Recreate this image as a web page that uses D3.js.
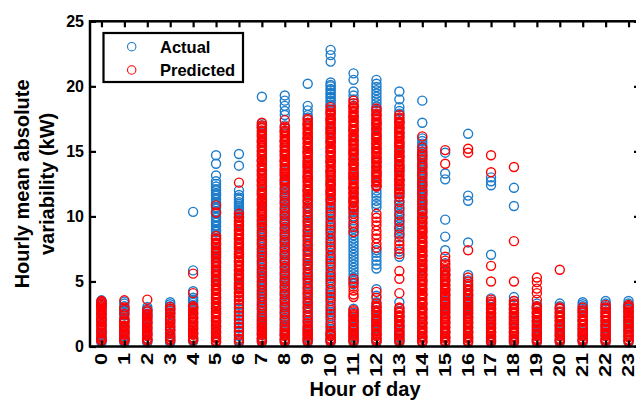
<!DOCTYPE html>
<html>
<head>
<meta charset="utf-8">
<script src="https://cdn.jsdelivr.net/npm/d3@7"></script>
<style>
  html, body { margin: 0; padding: 0; background: #fff; }
  svg { display: block; }
  text { font-family: "Liberation Sans", Arial, sans-serif; font-weight: bold; fill: #000; }
</style>
</head>
<body>
<svg id="chart" width="636" height="400"></svg>
<script>
// Hour of day categories
const hours = [0,1,2,3,4,5,6,7,8,9,10,11,12,13,14,15,16,17,18,19,20,21,22,23];
const yTicks = [0, 5, 10, 15, 20, 25];
const seriesNames = ["Actual", "Predicted"];

// Hourly mean absolute variability (kW), one list of observations per hour
const actual = [
  [0.3,0.4,0.5,0.7,0.9,1.2,1.4,1.7,1.9,2.2,2.4,2.7,2.9,3.1,3.2,3.3,3.45,3.55],
  [0.3,0.4,0.6,0.8,1.1,1.3,1.6,1.9,2.1,2.4,2.6,2.75,2.9,3.1,3.3,3.45],
  [0.3,0.4,0.6,0.9,1.2,1.5,1.8,2.1,2.3,2.5,2.65,2.8,2.9,3.05],
  [0.3,0.4,0.55,0.75,0.95,1.25,1.45,1.75,1.95,2.25,2.55,2.75,2.95,3.1,3.25,3.4],
  [0.4,0.5,0.7,1.0,1.3,1.6,1.9,2.2,2.5,2.8,3.0,3.2,3.35,3.5,3.6,3.75,4.25,5.85,10.35],
  [0.3,0.7,1.1,1.6,2.0,2.5,2.9,3.4,3.8,4.3,4.7,5.2,5.6,6.1,6.5,7.0,7.4,7.9,8.3,8.5,8.6,8.8,8.9,9.0,9.2,9.3,9.5,9.6,9.7,9.9,10.0,10.2,10.3,10.4,10.6,10.7,10.9,11.0,11.1,11.3,11.4,11.6,11.7,11.8,12.0,12.1,12.3,12.5,12.7,13.15,14.05,14.7],
  [0.3,0.5,0.8,1.1,1.4,1.7,2.0,2.3,2.6,2.9,3.2,3.5,4.1,4.7,5.3,5.9,6.5,7.1,7.7,8.3,8.9,9.5,9.9,10.2,10.35,10.5,10.65,10.8,10.95,11.1,11.3,11.45,11.65,12.0,13.9,14.8],
  [0.3,0.6,0.9,1.2,1.6,2.0,2.2,2.4,2.65,2.9,3.15,3.35,3.55,3.8,4.05,4.25,4.45,4.7,4.95,5.15,5.4,5.65,5.85,6.05,6.3,6.55,6.75,7.0,7.25,7.45,7.65,7.9,8.15,8.35,8.6,8.8,9.05,9.3,9.5,10.3,11.1,11.9,12.7,13.5,14.3,15.0,15.7,16.4,16.8,17.0,17.15,19.2],
  [0.3,0.55,0.85,1.1,1.35,1.6,1.85,2.1,2.35,2.6,2.85,3.1,3.35,3.6,3.9,4.1,4.35,4.6,4.9,5.1,5.35,5.6,5.85,6.1,6.4,6.6,6.85,7.1,7.35,7.6,7.9,8.1,8.35,8.6,8.85,9.1,9.4,9.6,9.85,10.1,10.35,10.6,10.9,11.1,11.35,11.6,11.85,12.1,12.4,12.6,13.4,14.2,15.0,15.8,16.6,17.0,17.8,18.1,18.5,18.9,19.3],
  [0.3,0.7,1.1,1.5,1.9,2.3,2.6,3.0,3.4,3.7,4.1,4.5,4.8,5.2,5.6,5.9,6.3,6.7,7.0,7.4,7.8,8.1,8.5,8.9,9.2,9.6,10.0,10.3,10.7,11.1,12.0,13.0,14.0,15.0,16.0,17.0,17.6,17.8,18.15,18.5,20.2],
  [0.3,0.55,0.8,1.05,1.35,1.65,2.0,2.35,2.65,2.95,3.3,3.65,3.95,4.25,4.6,4.95,5.25,5.55,5.9,6.25,6.55,6.85,7.2,7.55,7.85,8.15,8.5,8.85,9.15,9.45,9.8,10.15,10.45,10.75,11.05,11.8,12.6,13.4,14.2,15.0,15.8,16.6,17.4,18.1,18.5,18.6,18.8,18.9,19.1,19.2,19.4,19.5,19.7,19.8,20.0,20.1,20.3,21.9,22.4,22.8],
  [0.3,0.7,1.1,1.5,1.9,2.3,2.6,2.9,4.8,5.05,5.3,5.55,5.8,6.05,6.3,6.55,6.8,7.05,7.3,7.55,7.8,8.05,8.3,8.55,8.8,9.05,9.35,9.7,10.0,10.35,10.6,11.3,12.2,13.1,14.0,14.9,15.8,16.7,17.6,18.5,19.0,19.3,19.6,20.5,21.0],
  [0.3,0.6,1.0,1.4,1.8,2.2,2.6,3.0,3.4,3.9,4.4,6.0,6.3,6.6,6.9,7.2,7.4,10.7,10.95,11.2,11.5,11.75,12.0,12.3,13.2,14.2,15.2,16.2,17.2,18.2,18.45,18.7,18.95,19.2,19.45,19.7,19.95,20.2,20.5],
  [0.3,0.7,1.1,1.5,1.9,2.3,2.7,3.4,6.9,7.3,8.4,8.7,8.9,9.2,9.4,9.7,9.9,10.2,10.4,10.7,10.9,11.2,11.5,11.9,12.8,13.7,14.6,15.5,16.4,17.3,17.9,18.1,18.4,19.0,19.6],
  [0.3,0.8,1.3,1.8,2.3,2.8,3.3,4.0,5.0,6.0,7.0,8.0,9.0,9.9,10.3,10.5,10.75,11.0,11.2,11.45,11.7,11.9,12.15,12.4,12.6,12.85,13.1,13.3,13.55,13.8,14.0,14.25,14.5,14.7,14.95,15.2,15.4,15.6,15.8,16.0,17.2,18.9],
  [0.3,0.7,1.1,1.5,1.9,2.3,2.7,3.1,3.5,3.9,4.3,4.7,5.1,5.5,5.9,6.4,7.4,8.45,9.75,12.85,13.3,14.9],
  [0.3,0.7,1.1,1.5,1.9,2.3,2.7,3.1,3.5,3.9,4.3,4.7,5.1,5.5,8.0,11.2,11.6,16.35],
  [0.3,0.5,0.8,1.1,1.4,1.7,2.0,2.3,2.6,2.9,3.2,3.45,3.7,7.05,12.4,12.7,13.0],
  [0.3,0.5,0.8,1.1,1.4,1.7,2.0,2.3,2.6,2.9,3.2,3.5,3.8,10.8,12.2],
  [0.3,0.5,0.8,1.1,1.4,1.7,2.0,2.3,2.6,2.9,3.1,3.3],
  [0.3,0.5,0.8,1.1,1.4,1.7,2.0,2.3,2.6,2.9,3.1,3.3],
  [0.3,0.5,0.8,1.1,1.4,1.7,2.0,2.3,2.6,2.9,3.1,3.25,3.4],
  [0.3,0.5,0.8,1.1,1.4,1.7,2.0,2.3,2.6,2.9,3.1,3.3,3.5],
  [0.3,0.5,0.8,1.1,1.4,1.7,2.0,2.3,2.6,2.9,3.1,3.3,3.5]
];

const predicted = [
  [0.45,0.5,0.6,0.7,0.8,1.0,1.1,1.2,1.3,1.5,1.6,1.7,1.9,2.0,2.1,2.2,2.4,2.5,2.6,2.8,2.9,3.0,3.1,3.2,3.3,3.4,3.5],
  [0.45,0.5,0.6,0.7,0.9,1.0,1.1,1.2,1.4,1.5,1.6,1.8,1.9,2.0,2.15,2.5,2.8,3.0,3.55],
  [0.45,0.5,0.6,0.8,0.9,1.0,1.1,1.3,1.4,1.5,1.7,1.8,1.9,2.0,2.2,2.3,2.4,2.5,2.7,2.8,3.6],
  [0.45,0.55,0.7,0.8,1.0,1.2,1.3,1.5,1.6,1.8,2.0,2.1,2.3,2.5,2.6,2.8,2.9,3.05],
  [0.5,0.6,0.7,0.9,1.0,1.1,1.3,1.4,1.5,1.7,1.8,1.9,2.1,2.2,2.3,2.5,2.6,2.7,2.9,3.0,3.1,4.1,5.6],
  [0.35,0.45,0.6,0.7,0.8,1.0,1.1,1.2,1.4,1.5,1.6,1.8,1.9,2.0,2.2,2.3,2.5,2.6,2.7,2.9,3.0,3.1,3.3,3.4,3.6,3.7,3.8,4.0,4.1,4.3,4.4,4.5,4.7,4.8,5.0,5.1,5.2,5.4,5.5,5.7,5.8,5.9,6.1,6.2,6.4,6.5,6.6,6.8,6.9,7.1,7.2,7.3,7.5,7.6,7.8,7.9,8.0,8.2,8.3,8.5,10.3,10.85],
  [0.4,0.6,0.9,1.2,1.5,1.8,2.1,2.4,2.7,3.0,3.3,3.6,3.8,3.9,4.1,4.2,4.4,4.5,4.6,4.8,4.9,5.1,5.2,5.4,5.5,5.6,5.8,5.9,6.1,6.2,6.3,6.5,6.6,6.8,6.9,7.1,7.2,7.3,7.5,7.6,7.8,7.9,8.0,8.2,8.3,8.5,8.6,8.7,8.9,9.0,9.2,9.3,9.4,9.6,9.7,9.9,10.0,10.2,12.6],
  [0.4,0.5,0.6,0.7,0.9,1.0,1.1,1.3,1.4,1.5,1.7,1.8,1.9,2.1,2.3,2.5,2.8,3.0,3.2,3.4,3.7,3.9,4.1,4.3,4.6,4.8,5.0,5.3,5.5,5.7,5.9,6.2,6.4,6.6,6.9,7.1,7.3,7.5,7.8,8.0,8.2,8.5,8.7,8.9,9.2,9.4,9.6,9.7,9.8,10.0,10.1,10.2,10.4,10.5,10.6,10.8,10.9,11.0,11.2,11.3,11.4,11.6,11.7,11.8,12.0,12.1,12.3,12.4,12.5,12.7,12.8,12.9,13.1,13.2,13.3,13.5,13.6,13.8,13.9,14.0,14.2,14.3,14.4,14.6,14.7,14.8,15.0,15.1,15.3,15.4,15.5,15.7,15.8,15.9,16.1,16.2,16.3,16.5,16.6,16.8,16.9,17.0,17.2],
  [0.4,0.5,0.6,0.8,0.9,1.0,1.2,1.3,1.5,1.7,2.0,2.2,2.5,2.7,3.0,3.2,3.5,3.7,4.0,4.2,4.5,4.7,5.0,5.2,5.5,5.7,6.0,6.2,6.5,6.7,7.0,7.2,7.5,7.7,8.0,8.2,8.5,8.7,9.0,9.2,9.5,9.7,10.0,10.2,10.5,10.7,11.0,11.2,11.5,11.7,12.0,12.2,12.5,12.7,12.8,12.9,13.1,13.2,13.3,13.5,13.6,13.7,13.9,14.0,14.2,14.3,14.4,14.6,14.7,14.8,15.0,15.1,15.3,15.4,15.5,15.7,15.8,15.9,16.1,16.2,16.4,16.5,16.6,16.8,16.9,17.4],
  [0.4,0.5,0.6,0.8,0.9,1.0,1.2,1.3,1.4,1.6,1.8,2.0,2.2,2.4,2.7,2.9,3.1,3.3,3.5,3.8,4.0,4.2,4.4,4.6,4.9,5.1,5.3,5.5,5.7,6.0,6.2,6.4,6.6,6.8,7.1,7.3,7.5,7.7,7.9,8.2,8.4,8.6,8.8,9.0,9.3,9.5,9.7,9.9,10.1,10.4,10.6,10.8,11.0,11.2,11.3,11.5,11.6,11.7,11.9,12.0,12.1,12.3,12.4,12.6,12.7,12.8,13.0,13.1,13.2,13.4,13.5,13.7,13.8,13.9,14.1,14.2,14.3,14.5,14.6,14.8,14.9,15.0,15.2,15.3,15.4,15.6,15.7,15.9,16.0,16.1,16.3,16.4,16.5,16.7,16.8,17.0,17.1,17.2,17.4,17.5],
  [0.4,0.5,0.6,0.8,0.9,1.0,1.2,1.5,1.8,2.2,2.5,2.8,3.1,3.5,3.8,4.1,4.4,4.8,5.1,5.4,5.7,6.1,6.4,6.7,7.0,7.4,7.7,8.0,8.3,8.7,9.0,9.3,9.6,10.0,10.3,10.6,10.9,11.2,11.3,11.4,11.6,11.7,11.9,12.0,12.1,12.3,12.4,12.5,12.7,12.8,13.0,13.1,13.2,13.4,13.5,13.6,13.8,13.9,14.1,14.2,14.3,14.5,14.6,14.7,14.9,15.0,15.2,15.3,15.4,15.6,15.7,15.8,16.0,16.1,16.3,16.4,16.5,16.7,16.8,16.9,17.1,17.2,17.4,17.5,17.6,17.8,17.9,18.0,18.2,18.4],
  [0.4,0.5,0.6,0.8,0.9,1.0,1.2,1.3,1.4,1.6,1.7,1.9,2.0,2.1,2.3,2.4,2.5,2.7,2.8,3.8,4.0,4.3,4.6,4.9,5.2,8.8,9.2,9.5,9.9,10.2,10.5,10.7,10.8,11.0,11.1,11.2,11.4,11.5,11.7,11.8,11.9,12.1,12.2,12.3,12.5,12.6,12.8,12.9,13.0,13.2,13.3,13.4,13.6,13.7,13.9,14.0,14.1,14.3,14.4,14.5,14.7,14.8,15.0,15.1,15.2,15.4,15.5,15.6,15.8,15.9,16.1,16.2,16.3,16.5,16.6,16.7,16.9,17.0,17.2,17.3,17.4,17.6,17.7,17.8,18.0,18.1,18.3,18.4,18.5,18.7,18.9],
  [0.4,0.5,0.6,0.8,0.9,1.0,1.2,1.3,1.5,1.6,1.7,1.9,2.0,2.1,2.3,2.4,2.6,2.7,2.8,3.0,3.1,3.3,3.75,4.2,7.6,7.9,8.3,8.6,8.9,9.3,9.6,9.9,10.2,12.3,12.4,12.6,12.7,12.8,13.0,13.1,13.3,13.4,13.5,13.7,13.8,13.9,14.1,14.2,14.4,14.5,14.6,14.8,14.9,15.0,15.2,15.3,15.5,15.6,15.7,15.9,16.0,16.1,16.3,16.4,16.6,16.7,16.8,17.0,17.1,17.2,17.4,17.5,17.7,17.8,17.9,18.1,18.3],
  [0.4,0.5,0.6,0.8,0.9,1.0,1.2,1.3,1.5,1.6,1.7,1.9,2.0,2.2,2.3,2.4,2.6,2.7,2.9,3.0,4.1,5.2,5.8,7.1,7.5,7.8,8.1,8.6,9.1,9.6,10.1,10.6,11.1,11.5,11.7,11.8,12.0,12.1,12.3,12.4,12.5,12.7,12.8,12.9,13.1,13.2,13.4,13.5,13.6,13.8,13.9,14.0,14.2,14.3,14.5,14.6,14.7,14.9,15.0,15.1,15.3,15.4,15.6,15.7,15.8,16.0,16.1,16.2,16.4,16.5,16.7,16.8,16.9,17.1,17.2,17.3,17.5,17.6,17.8],
  [0.35,0.45,0.6,0.7,0.8,1.0,1.1,1.2,1.4,1.5,1.7,1.8,1.9,2.1,2.2,2.3,2.5,2.6,2.8,2.9,3.0,3.2,3.3,3.4,3.6,3.7,3.9,4.0,4.1,4.3,4.4,4.5,4.7,4.8,5.0,5.1,5.2,5.4,5.5,5.6,5.8,5.9,6.1,6.2,6.3,6.5,6.6,6.7,6.9,7.0,7.2,7.3,7.4,7.6,7.7,7.8,8.0,8.1,8.3,8.4,8.5,8.7,8.8,8.9,9.1,9.2,9.4,9.5,9.6,9.8,9.9,10.0,10.2,10.4,10.6,10.9,11.1,11.3,11.6,11.8,12.0,12.3,12.5,12.7,13.0,13.2,13.4,13.7,13.9,14.1,14.4,14.6,14.8,15.0,15.3,16.15],
  [0.35,0.45,0.6,0.7,0.8,1.0,1.1,1.2,1.4,1.5,1.7,1.8,1.9,2.1,2.2,2.3,2.5,2.6,2.8,2.9,3.0,3.2,3.3,3.4,3.6,3.7,3.9,4.0,4.1,4.3,4.4,4.5,4.7,4.8,5.0,5.1,5.2,5.4,5.5,5.6,5.8,5.9,6.1,6.3,6.6,6.9,14.05,15.1],
  [0.35,0.45,0.6,0.7,0.8,1.0,1.1,1.2,1.4,1.5,1.7,1.8,1.9,2.1,2.2,2.3,2.5,2.6,2.8,2.9,3.0,3.2,3.3,3.4,3.6,3.7,3.9,4.0,4.1,4.3,4.4,4.6,4.8,5.0,5.3,7.4,14.9,15.2],
  [0.35,0.45,0.6,0.7,0.8,1.0,1.1,1.2,1.4,1.5,1.7,1.8,1.9,2.1,2.2,2.3,2.5,2.6,2.8,2.9,3.0,3.2,3.3,3.45,3.6,5.0,6.2,13.4,14.7],
  [0.35,0.45,0.6,0.7,0.8,1.0,1.1,1.2,1.4,1.5,1.7,1.8,1.9,2.1,2.2,2.3,2.5,2.6,2.8,2.9,3.0,3.2,3.3,3.5,5.0,8.1,13.8],
  [0.4,0.5,0.6,0.8,0.9,1.0,1.2,1.3,1.5,1.6,1.8,1.9,2.0,2.2,2.3,2.5,2.6,2.7,2.9,3.0,3.1,3.6,4.1,4.45,4.95,5.3],
  [0.4,0.5,0.6,0.8,0.9,1.0,1.2,1.3,1.5,1.6,1.7,1.9,2.0,2.2,2.3,2.4,2.6,2.7,2.9,3.0,5.9],
  [0.4,0.5,0.6,0.8,0.9,1.0,1.2,1.3,1.4,1.6,1.7,1.9,2.0,2.1,2.3,2.4,2.6,2.7,2.8,3.0],
  [0.4,0.5,0.6,0.8,0.9,1.0,1.2,1.3,1.5,1.6,1.7,1.9,2.0,2.2,2.3,2.4,2.6,2.7,2.9,3.0,3.2],
  [0.4,0.5,0.7,0.8,0.9,1.1,1.2,1.3,1.5,1.6,1.8,1.9,2.0,2.2,2.3,2.4,2.6,2.7,2.8,3.0,3.1,3.2]
];

const colors = { Actual: "#1c7cca", Predicted: "#FF0000" };

const svg = d3.select("#chart");
const W = 636, H = 400;
const plot = { left: 90, right: 640, top: 21.3, bottom: 346.5 };

svg.append("rect").attr("width", W).attr("height", H).attr("fill", "#fff");

const x = d3.scaleLinear().domain([-0.5, 23.5]).range([plot.left, plot.right]);
const y = d3.scaleLinear().domain([0, 25]).range([plot.bottom, plot.top]);

// flatten per-hour observations into point records
const toPoints = (lists) => lists.flatMap((vals, i) => vals.map(v => ({ hour: hours[i], value: v })));
const series = [
  { name: "Actual", points: toPoints(actual) },
  { name: "Predicted", points: toPoints(predicted) }
];

const markerR = 4.5;
const gPts = svg.append("g");
series.forEach(s => {
  gPts.append("g")
    .selectAll("circle")
    .data(s.points)
    .join("circle")
    .attr("cx", d => x(d.hour))
    .attr("cy", d => y(d.value))
    .attr("r", markerR)
    .attr("fill", "none")
    .attr("stroke", colors[s.name])
    .attr("stroke-width", 1.4);
});

// axes box with inward ticks on all four sides
const tickLen = 6;
const axisW = 2.5;
const gAx = svg.append("g");

const bottomAxis = d3.axisBottom(x).tickValues(hours).tickSize(-tickLen).tickFormat("");
const topAxis = d3.axisTop(x).tickValues(hours).tickSize(-tickLen).tickFormat("");
const leftAxis = d3.axisLeft(y).tickValues(yTicks).tickSize(-tickLen).tickFormat("");
const rightAxis = d3.axisRight(y).tickValues(yTicks).tickSize(-tickLen).tickFormat("");

[[bottomAxis, `translate(0,${plot.bottom})`], [topAxis, `translate(0,${plot.top})`],
 [leftAxis, `translate(${plot.left},0)`], [rightAxis, `translate(${plot.right},0)`]].forEach(([ax, tr]) => {
  const g = gAx.append("g").attr("transform", tr).call(ax);
  g.select(".domain").remove();
  g.selectAll(".tick line").attr("stroke", "#000").attr("stroke-width", 2.2);
});

gAx.append("rect")
  .attr("x", plot.left).attr("y", plot.top)
  .attr("width", plot.right - plot.left).attr("height", plot.bottom - plot.top)
  .attr("fill", "none").attr("stroke", "#000").attr("stroke-width", axisW);

// tick labels
svg.append("g").selectAll("text")
  .data(yTicks)
  .join("text")
  .attr("x", 84)
  .attr("y", d => y(d))
  .attr("dy", "0.36em")
  .attr("text-anchor", "end")
  .attr("font-size", 16)
  .text(d => d);

svg.append("g").selectAll("text")
  .data(hours)
  .join("text")
  .attr("transform", d => `translate(${x(d)},353) rotate(-90) scale(1.35,1)`)
  .attr("dy", "0.34em")
  .attr("text-anchor", "end")
  .attr("font-size", 16)
  .text(d => d);

// axis titles
svg.append("text")
  .attr("x", (plot.left + plot.right) / 2)
  .attr("y", 396)
  .attr("text-anchor", "middle")
  .attr("font-size", 20)
  .text("Hour of day");

const yTitle = svg.append("text")
  .attr("transform", `translate(29,${(plot.top + plot.bottom) / 2}) rotate(-90)`)
  .attr("text-anchor", "middle")
  .attr("font-size", 20);
yTitle.append("tspan").attr("x", 0).attr("y", 0).text("Hourly mean absolute");
yTitle.append("tspan").attr("x", 0).attr("y", 25).text("variability (kW)");

// legend
const lg = svg.append("g");
lg.append("rect")
  .attr("x", 103.5).attr("y", 33)
  .attr("width", 139.5).attr("height", 49)
  .attr("fill", "#fff").attr("stroke", "#000").attr("stroke-width", 2.2);
seriesNames.forEach((name, i) => {
  const cy = 46.7 + i * 23.3;
  lg.append("circle")
    .attr("cx", 131.7).attr("cy", cy).attr("r", 4.2)
    .attr("fill", "none").attr("stroke", colors[name]).attr("stroke-width", 1.1);
  lg.append("text")
    .attr("x", 160).attr("y", cy).attr("dy", "0.36em")
    .attr("font-size", 16.5)
    .text(name);
});
</script>
</body>
</html>
